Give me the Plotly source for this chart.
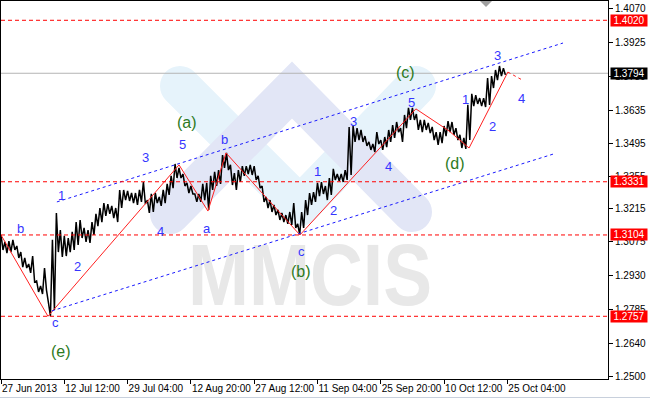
import base64
import plotly.graph_objects as go

# ---------------- data ----------------
STEP = 16  # H1 bars per sample
hi = [1.3104, 1.3074, 1.3078, 1.3083, 1.3057, 1.3031, 1.3006, 1.2980, 1.3014, 1.2908,
      1.2886, 1.2963, 1.2814, 1.3083, 1.3198, 1.3125, 1.3100, 1.3091, 1.3117, 1.3159,
      1.3168, 1.3134, 1.3125, 1.3159, 1.3194, 1.3219, 1.3240, 1.3236, 1.3228, 1.3219,
      1.3296, 1.3296, 1.3292, 1.3283, 1.3283, 1.3296, 1.3330, 1.3253, 1.3279, 1.3283,
      1.3266, 1.3296, 1.3322, 1.3356, 1.3407, 1.3390, 1.3364, 1.3326, 1.3313, 1.3279,
      1.3279, 1.3322, 1.3326, 1.3356, 1.3373, 1.3381, 1.3445, 1.3454, 1.3403, 1.3368,
      1.3381, 1.3398, 1.3398, 1.3403, 1.3398, 1.3356, 1.3313, 1.3266, 1.3253, 1.3232,
      1.3211, 1.3198, 1.3189, 1.3202, 1.3240, 1.3151, 1.3202, 1.3253, 1.3283, 1.3287,
      1.3326, 1.3330, 1.3313, 1.3347, 1.3386, 1.3364, 1.3364, 1.3381, 1.3565, 1.3569,
      1.3560, 1.3552, 1.3526, 1.3501, 1.3492, 1.3543, 1.3509, 1.3522, 1.3552, 1.3573,
      1.3586, 1.3560, 1.3616, 1.3646, 1.3646, 1.3620, 1.3595, 1.3595, 1.3582, 1.3565,
      1.3543, 1.3543, 1.3569, 1.3590, 1.3586, 1.3560, 1.3531, 1.3518, 1.3659, 1.3706,
      1.3701, 1.3688, 1.3688, 1.3774, 1.3782, 1.3808, 1.3825, 1.3816]
lo = [1.3040, 1.3027, 1.3031, 1.3040, 1.3006, 1.2967, 1.2963, 1.2942, 1.2903, 1.2861,
      1.2852, 1.2869, 1.2758, 1.2784, 1.3031, 1.3010, 1.3014, 1.3031, 1.3040, 1.3061,
      1.3091, 1.3074, 1.3070, 1.3104, 1.3142, 1.3159, 1.3185, 1.3194, 1.3176, 1.3159,
      1.3219, 1.3253, 1.3249, 1.3240, 1.3232, 1.3245, 1.3236, 1.3198, 1.3202, 1.3240,
      1.3228, 1.3240, 1.3275, 1.3304, 1.3347, 1.3347, 1.3313, 1.3283, 1.3279, 1.3245,
      1.3245, 1.3253, 1.3211, 1.3296, 1.3313, 1.3322, 1.3390, 1.3381, 1.3317, 1.3296,
      1.3330, 1.3356, 1.3364, 1.3360, 1.3339, 1.3304, 1.3245, 1.3219, 1.3202, 1.3189,
      1.3168, 1.3159, 1.3151, 1.3147, 1.3134, 1.3106, 1.3134, 1.3189, 1.3232, 1.3245,
      1.3270, 1.3279, 1.3253, 1.3275, 1.3339, 1.3334, 1.3330, 1.3339, 1.3360, 1.3501,
      1.3509, 1.3501, 1.3484, 1.3467, 1.3458, 1.3492, 1.3467, 1.3479, 1.3501, 1.3518,
      1.3543, 1.3501, 1.3560, 1.3595, 1.3595, 1.3552, 1.3543, 1.3552, 1.3539, 1.3509,
      1.3488, 1.3496, 1.3526, 1.3543, 1.3531, 1.3509, 1.3475, 1.3471, 1.3509, 1.3654,
      1.3663, 1.3654, 1.3650, 1.3659, 1.3731, 1.3765, 1.3782, 1.3787]

wave_x = [0, 190, 720, 837, 910, 1209, 1678, 1759, 1812, 1893, 1986, 2050]
wave_y = [1.3104, 1.2757, 1.3403, 1.3206, 1.3454, 1.3104, 1.3642, 1.3586, 1.3548, 1.3475, 1.3667, 1.3799]
proj_x = [2050, 2107]
proj_y = [1.3799, 1.3766]

upper_x = [226, 2273]
upper_y = [1.3245, 1.3923]
lower_x = [206, 2236]
lower_y = [1.2780, 1.3450]

levels = [1.4020, 1.3331, 1.3104, 1.2757]
current_price = 1.3794

x_tickvals = [0, 256, 512, 768, 1024, 1280, 1536, 1792, 2048]
x_ticktext = ["27 Jun 2013", "12 Jul 12:00", "29 Jul 04:00", "12 Aug 20:00", "27 Aug 12:00",
              "11 Sep 04:00", "25 Sep 20:00", "10 Oct 12:00", "25 Oct 04:00"]
y_tickvals = [1.4070, 1.3925, 1.3780, 1.3635, 1.3495, 1.3355, 1.3215, 1.3075,
              1.2930, 1.2785, 1.2640, 1.2500]
y_ticktext = ["1.4070", "1.3925", "1.3780", "1.3635", "1.3495", "1.3355", "1.3215", "1.3075",
              "1.2930", "1.2785", "1.2640", "1.2500"]

wave_labels = [("b", 15, 228), ("1", 56, 195), ("2", 72, 276), ("c", 50, 332), ("3", 140, 157),
               ("4", 155, 231), ("5", 177, 144), ("a", 207, 228), ("b", 224, 139), ("c", 301, 251),
               ("1", 318, 171), ("2", 334, 210), ("3", 353, 112), ("4", 389, 166), ("5", 417, 93),
               ("1", 471, 90), ("2", 498, 117), ("3", 503, 46), ("4", 527, 89)]
big_labels = [("(e)", 49, 362), ("(a)", 175, 112), ("(b)", 301, 282), ("(c)", 417, 62), ("(d)", 467, 163)]

# ---------------- figure ----------------
W, H = 650, 400
ML, MR, MT, MB = 1, 42, 1, 21
PW, PH = W - ML - MR, H - MT - MB


def paper(xp, yp):
    return (xp - ML) / PW, 1 - (yp - MT) / PH


FONT = "Liberation Sans"

xs, ys = [], []
for k, (h, l) in enumerate(zip(hi, lo)):
    xs += [k * STEP, k * STEP + STEP / 2]
    ys += [h, l]

fig = go.Figure()
fig.add_trace(go.Scatter(x=xs, y=ys, mode="lines", line=dict(color="black", width=1.5),
                         hoverinfo="skip", showlegend=False))
fig.add_trace(go.Scatter(x=wave_x, y=wave_y, mode="lines", line=dict(color="#ff2020", width=1),
                         showlegend=False))
fig.add_trace(go.Scatter(x=proj_x, y=proj_y, mode="lines",
                         line=dict(color="#ff2020", width=1, dash="3px,3px"), showlegend=False))
for cx, cy in ((upper_x, upper_y), (lower_x, lower_y)):
    fig.add_trace(go.Scatter(x=cx, y=cy, mode="lines",
                             line=dict(color="#1a1aff", width=1, dash="3px,3px"), showlegend=False))

shapes = []
for lv in levels:
    shapes.append(dict(type="line", xref="paper", x0=0, x1=1, yref="y", y0=lv, y1=lv,
                       line=dict(color="#ff0000", width=1, dash="4px,3px"), layer="above"))
shapes.append(dict(type="line", xref="paper", x0=0, x1=1, yref="y", y0=current_price, y1=current_price,
                   line=dict(color="#b4b4b4", width=1), layer="below"))
# small shift marker at the top
tx, ty = paper(486, 1)
shapes.append(dict(type="path", xref="paper", yref="paper",
                   path=f"M {tx - 6/PW} {ty} L {tx + 6/PW} {ty} L {tx} {ty - 6/PH} Z",
                   fillcolor="#a0a0a0", line=dict(width=0)))
# window border line at bottom
shapes.append(dict(type="line", xref="paper", yref="paper", x0=-ML / PW, x1=1 + MR / PW,
                   y0=paper(0, 397.5)[1], y1=paper(0, 397.5)[1],
                   line=dict(color="#c8d0dc", width=1)))

annotations = []
for t, xp, yp in wave_labels:
    ax, ay = paper(xp, yp)
    annotations.append(dict(text=t, x=ax, y=ay, xref="paper", yref="paper", showarrow=False,
                            font=dict(family=FONT, size=13, color="#3535ff")))
for t, xp, yp in big_labels:
    ax, ay = paper(xp, yp)
    annotations.append(dict(text=t, x=ax, y=ay, xref="paper", yref="paper", showarrow=False,
                            font=dict(family=FONT, size=16, color="#2d7a1e")))
for lv in levels + [current_price]:
    annotations.append(dict(text=f"{lv:.4f}", x=1, xshift=2, xanchor="left", xref="paper",
                            y=lv, yref="y", yanchor="middle", showarrow=False,
                            bgcolor="black" if lv == current_price else "#ff0000",
                            font=dict(family=FONT, size=10, color="white"),
                            width=36, height=11, borderpad=0))

# watermark (logo + text) as an svg image below the data
svg = f'''<svg xmlns="http://www.w3.org/2000/svg" width="{PW}" height="{PH}" viewBox="{ML} {MT} {PW} {PH}">
<polyline points="180,86 300,206 416,86" fill="none" stroke="#e6f3fb" stroke-width="40" stroke-linecap="round" stroke-linejoin="round"/>
<polyline points="170,214 292,90 412,212" fill="none" stroke="#e2e6f6" stroke-width="40" stroke-linecap="round" stroke-linejoin="miter"/>
<text x="188" y="305" font-family="Liberation Sans" font-weight="bold" font-size="88" fill="#e8e8e8" textLength="244" lengthAdjust="spacingAndGlyphs">MMCIS</text>
</svg>'''
src = "data:image/svg+xml;base64," + base64.b64encode(svg.encode()).decode()

fig.update_layout(
    template="none",
    width=W, height=H, margin=dict(l=ML, r=MR, t=MT, b=MB, autoexpand=False),
    paper_bgcolor="white", plot_bgcolor="rgba(0,0,0,0)",
    shapes=shapes, annotations=annotations,
    images=[dict(source=src, xref="paper", yref="paper", x=0, y=1, sizex=1, sizey=1,
                 xanchor="left", yanchor="top", sizing="stretch", layer="below")],
    font=dict(family=FONT, size=10, color="black"),
    showlegend=False,
)
fig.update_xaxes(range=[0, 2455], tickvals=x_tickvals, ticktext=x_ticktext, ticks="outside",
                 ticklen=4, tickcolor="black", ticklabelposition="outside right", tickangle=0,
                 automargin=False, showgrid=False, zeroline=False, showline=True,
                 linecolor="black", linewidth=1, mirror=True,
                 tickfont=dict(family=FONT, size=10, color="black"))
fig.update_yaxes(range=[1.24894, 1.41023], tickvals=y_tickvals, ticktext=y_ticktext, side="right",
                 ticks="outside", ticklen=4, tickcolor="black", automargin=False, showgrid=False,
                 zeroline=False, showline=True, linecolor="black", linewidth=1, mirror=True,
                 tickfont=dict(family=FONT, size=10, color="black"))

fig.write_html("out.html", config={"displayModeBar": False},
               post_script="document.body.style.margin='0';document.body.style.overflow='hidden';")
